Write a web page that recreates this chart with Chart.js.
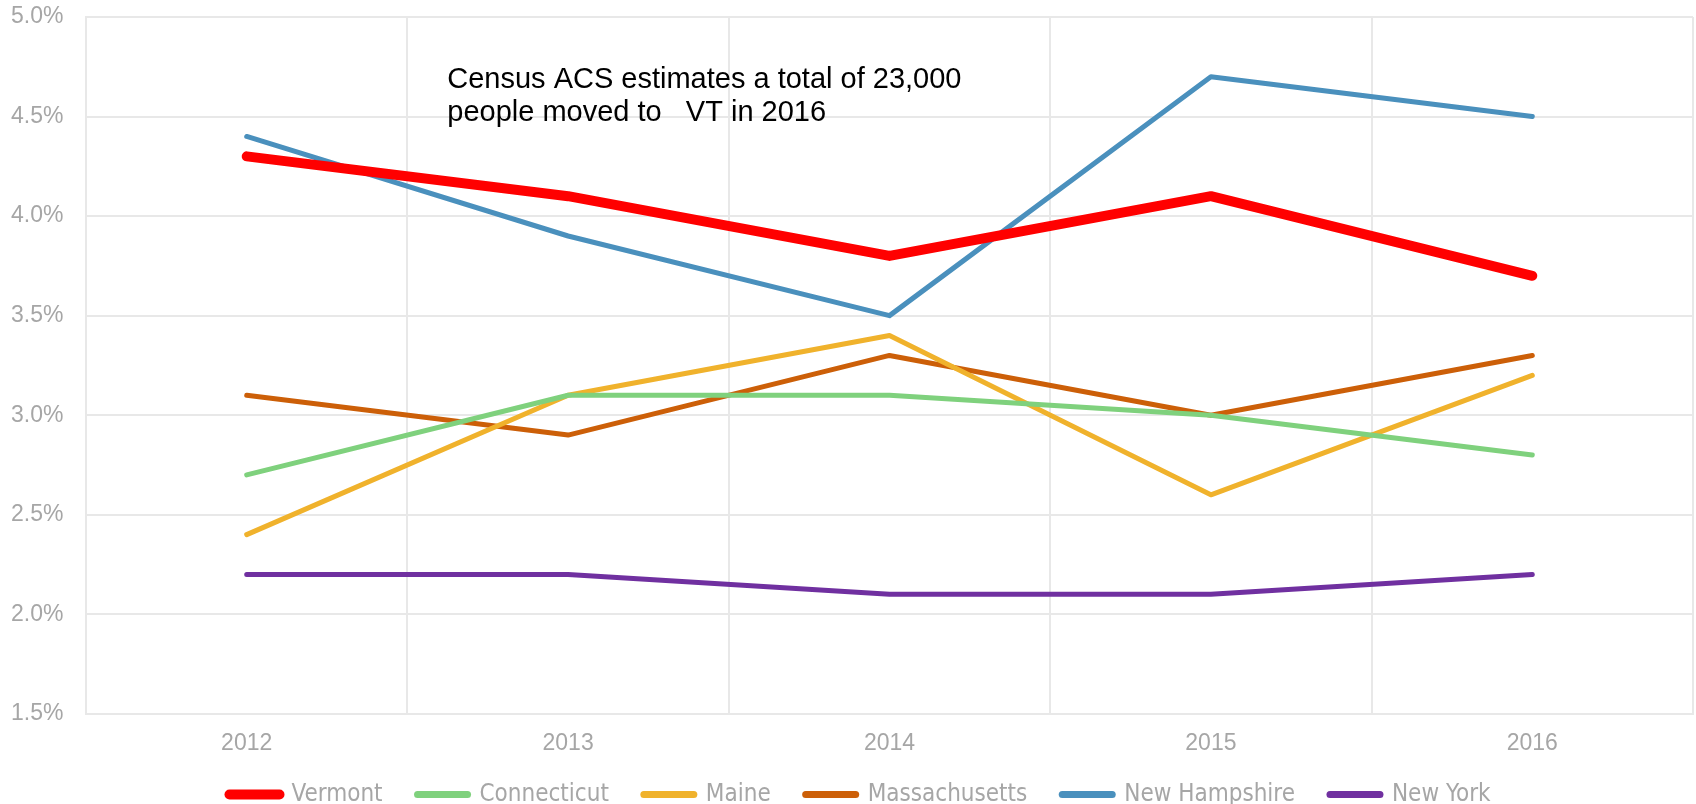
<!DOCTYPE html>
<html>
<head>
<meta charset="utf-8">
<script src="https://cdn.jsdelivr.net/npm/chart.js@4.4.0/dist/chart.umd.min.js"></script>
<style>
html,body{margin:0;padding:0;background:#fff;}
#wrap{width:1696px;height:804px;position:relative;}
</style>
</head>
<body>
<div id="wrap"><canvas id="c" width="1696" height="804"></canvas></div>
<script>
const years = ['2012', '2013', '2014', '2015', '2016'];
const vermont = [4.3, 4.1, 3.8, 4.1, 3.7];
const connecticut = [2.7, 3.1, 3.1, 3.0, 2.8];
const maine = [2.4, 3.1, 3.4, 2.6, 3.2];
const massachusetts = [3.1, 2.9, 3.3, 3.0, 3.3];
const newHampshire = [4.4, 3.9, 3.5, 4.7, 4.5];
const newYork = [2.2, 2.2, 2.1, 2.1, 2.2];
const yTicks = [1.5, 2.0, 2.5, 3.0, 3.5, 4.0, 4.5, 5.0];
const annotationLines = ['Census ACS estimates a total of 23,000', 'people moved to   VT in 2016'];

function ds(label, data, color, width, legendWidth) {
  return {label, data, borderColor: color, backgroundColor: color, borderWidth: width,
    legendWidth,
    pointRadius: 0, pointHoverRadius: 0, tension: 0, fill: false,
    borderCapStyle: 'round', borderJoinStyle: 'round'};
}

const annotation = {
  id: 'annotation',
  afterDatasetsDraw(chart) {
    const ctx = chart.ctx;
    const x = chart.scales.x.getPixelForValue(0.624);
    const y = chart.scales.y.getPixelForValue(4.643);
    ctx.save();
    ctx.fillStyle = '#000';
    ctx.font = '29px "Liberation Sans", Arial, sans-serif';
    ctx.textBaseline = 'alphabetic';
    annotationLines.forEach((t, i) => ctx.fillText(t, x, y + i * 33));
    ctx.restore();
  }
};

const legendShift = {
  id: 'legendShift',
  afterLayout(chart) {
    const L = chart.legend;
    if (!L) return;
    L.left += 8; L.right += 8;
    const top = chart.chartArea.bottom + 80.7 - 47;
    const h = L.bottom - L.top;
    L.top = top; L.bottom = top + h;
  }
};

new Chart(document.getElementById('c'), {
  type: 'line',
  data: {
    labels: years,
    datasets: [
      ds('Vermont', vermont, '#FF0000', 10, 10),
      ds('Connecticut', connecticut, '#7FD17D', 5, 7),
      ds('Maine', maine, '#F0B22C', 5, 7),
      ds('Massachusetts', massachusetts, '#CC5F08', 5, 7),
      ds('New Hampshire', newHampshire, '#4A90BD', 5, 7),
      ds('New York', newYork, '#7030A0', 5, 7)
    ]
  },
  options: {
    responsive: false,
    animation: false,
    events: [],
    layout: {padding: {left: 11, right: 3, top: 17, bottom: -38.4}},
    scales: {
      x: {
        offset: true,
        grid: {offset: true, color: '#E8E8E8', lineWidth: 2, drawTicks: false},
        border: {color: '#E8E8E8', width: 2},
        ticks: {color: '#A6A6A6', font: {family: '"Liberation Sans", Arial', size: 23}, padding: 16}
      },
      y: {
        min: 1.5, max: 5.0,
        afterBuildTicks(scale) { scale.ticks = yTicks.map(v => ({value: v})); },
        afterFit(scale) { scale.width = 75; },
        grid: {color: '#E8E8E8', lineWidth: 2, drawTicks: false},
        border: {color: '#E8E8E8', width: 2},
        ticks: {color: '#A6A6A6', font: {family: '"Liberation Sans", Arial', size: 23}, padding: 0,
          crossAlign: 'far',
          callback: v => Number(v).toFixed(1) + '%'}
      }
    },
    plugins: {
      tooltip: {enabled: false},
      legend: {
        position: 'bottom',
        labels: {
          color: '#A6A6A6',
          font: {family: '"Liberation Sans Narrow", "Arial Narrow", "DejaVu Sans Condensed", "Liberation Sans"', size: 24},
          usePointStyle: true, pointStyleWidth: 50, boxHeight: 10, padding: 35,
          generateLabels(chart) {
            return chart.data.datasets.map((d, i) => ({
              text: d.label, fillStyle: d.borderColor, strokeStyle: d.borderColor,
              lineWidth: d.legendWidth, lineCap: 'round', pointStyle: 'line',
              hidden: false, datasetIndex: i, fontColor: '#A6A6A6'
            }));
          }
        }
      }
    }
  },
  plugins: [annotation, legendShift]
});
</script>
</body>
</html>
